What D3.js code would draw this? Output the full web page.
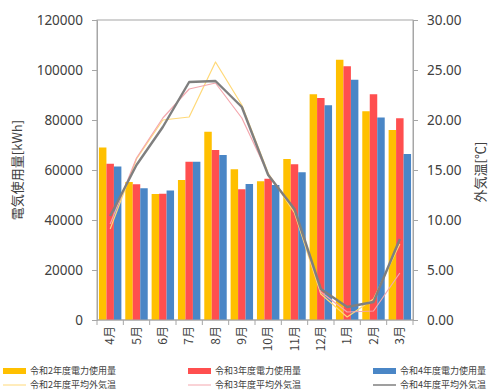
<!DOCTYPE html>
<html>
<head>
<meta charset="utf-8">
<script src="https://cdn.jsdelivr.net/npm/d3@7"></script>
<style>
  html, body { margin: 0; padding: 0; background: #fff; }
  svg { display: block; }
</style>
</head>
<body>
<svg id="chart" width="489" height="392"></svg>
<script>
// Months of the fiscal year (April to March)
const months = ["4月", "5月", "6月", "7月", "8月", "9月", "10月", "11月", "12月", "1月", "2月", "3月"];

// Monthly electricity use [kWh]
const useR2 = [69000, 55200, 50400, 56000, 75300, 60300, 55500, 64400, 90300, 104100, 83500, 76000];
const useR3 = [62500, 54300, 50500, 63300, 68000, 52300, 56500, 62300, 88800, 101500, 90300, 80700];
const useR4 = [61400, 52700, 51800, 63300, 66000, 54400, 54000, 59100, 85900, 96100, 81000, 66400];

// Monthly mean outdoor temperature [℃]
const tempR2 = [9.1, 16.1, 20.0, 20.3, 25.8, 21.5, 14.7, 10.7, 2.6, 0.3, 2.1, 7.6];
const tempR3 = [9.6, 16.2, 20.2, 23.1, 23.7, 20.2, 14.6, 11.1, 2.8, 0.8, 0.9, 4.7];
const tempR4 = [10.4, 15.5, 19.3, 23.8, 23.9, 21.3, 14.5, 11.1, 3.1, 1.3, 1.8, 8.1];

// Axis ticks
const useTicks = [0, 20000, 40000, 60000, 80000, 100000, 120000];
const tempTicks = [0, 5, 10, 15, 20, 25, 30];

const barSeries = [
  { name: "令和2年度電力使用量", values: useR2, color: "#FFC000" },
  { name: "令和3年度電力使用量", values: useR3, color: "#FF4F4F" },
  { name: "令和4年度電力使用量", values: useR4, color: "#4A86C6" }
];
const lineSeries = [
  { name: "令和2年度平均外気温", values: tempR2, color: "#FFD978", width: 1.2 },
  { name: "令和3年度平均外気温", values: tempR3, color: "#F4A7AE", width: 1.2 },
  { name: "令和4年度平均外気温", values: tempR4, color: "#7F7F7F", width: 2.4 }
];

const svg = d3.select("#chart");
const plot = { left: 97, right: 413, top: 20, bottom: 320 };
const axisColor = "#A6A6A6";
const textColor = "#404040";
const numFont = "'Noto Sans', 'Liberation Sans', sans-serif";
const jpFont = "'Noto Sans CJK JP', 'Noto Sans', sans-serif";

const x = d3.scaleBand().domain(months).range([plot.left, plot.right]).paddingInner(0).paddingOuter(0);
const xInner = d3.scaleBand().domain(d3.range(barSeries.length)).range([0, x.bandwidth()]).paddingInner(0).paddingOuter(0.26);
const yUse = d3.scaleLinear().domain([0, 120000]).range([plot.bottom, plot.top]);
const yTemp = d3.scaleLinear().domain([0, 30]).range([plot.bottom, plot.top]);

// Plot frame
svg.append("rect")
  .attr("x", plot.left).attr("y", plot.top)
  .attr("width", plot.right - plot.left).attr("height", plot.bottom - plot.top)
  .attr("fill", "none").attr("stroke", axisColor).attr("stroke-width", 1);

// Bars
const groups = svg.append("g").selectAll("g")
  .data(months)
  .join("g")
  .attr("transform", m => `translate(${x(m)},0)`);

groups.selectAll("rect")
  .data((m, i) => barSeries.map((s, k) => ({ k, v: s.values[i], color: s.color })))
  .join("rect")
  .attr("x", d => xInner(d.k))
  .attr("width", xInner.bandwidth())
  .attr("y", d => yUse(d.v))
  .attr("height", d => yUse(0) - yUse(d.v))
  .attr("fill", d => d.color);

// Temperature lines
const line = d3.line()
  .x((d, i) => x(months[i]) + x.bandwidth() / 2)
  .y(d => yTemp(d));

svg.append("g").selectAll("path")
  .data(lineSeries)
  .join("path")
  .attr("d", s => line(s.values))
  .attr("fill", "none")
  .attr("stroke", s => s.color)
  .attr("stroke-width", s => s.width)
  .attr("stroke-linejoin", "round");

// Left axis
const leftAxis = svg.append("g")
  .attr("transform", `translate(${plot.left},0)`)
  .call(d3.axisLeft(yUse).tickValues(useTicks).tickSize(5).tickPadding(9).tickFormat(d3.format("d")));

// Right axis
const rightAxis = svg.append("g")
  .attr("transform", `translate(${plot.right},0)`)
  .call(d3.axisRight(yTemp).tickValues(tempTicks).tickSize(5).tickPadding(9).tickFormat(d3.format(".2f")));

[leftAxis, rightAxis].forEach(a => {
  a.select(".domain").attr("stroke", axisColor);
  a.selectAll(".tick line").attr("stroke", axisColor);
  a.selectAll(".tick text")
    .attr("fill", textColor)
    .style("font-family", numFont)
    .style("font-size", "13.5px");
});

// Bottom axis: ticks at band boundaries, rotated month labels
const bottom = svg.append("g");
bottom.append("line")
  .attr("x1", plot.left).attr("x2", plot.right)
  .attr("y1", plot.bottom).attr("y2", plot.bottom)
  .attr("stroke", axisColor);
bottom.selectAll("line.tick")
  .data(months.concat(["end"]))
  .join("line")
  .attr("class", "tick")
  .attr("x1", (m, i) => i < months.length ? x(m) : plot.right)
  .attr("x2", (m, i) => i < months.length ? x(m) : plot.right)
  .attr("y1", plot.bottom).attr("y2", plot.bottom + 5)
  .attr("stroke", axisColor);
bottom.selectAll("text")
  .data(months)
  .join("text")
  .attr("transform", m => `translate(${x(m) + x.bandwidth() / 2},${plot.bottom + 6}) rotate(-90)`)
  .attr("text-anchor", "end")
  .attr("dy", "0.35em")
  .attr("fill", textColor)
  .style("font-family", jpFont)
  .style("font-size", "12px")
  .text(m => m);

// Axis titles
svg.append("text")
  .attr("transform", "translate(17,170) rotate(-90)")
  .attr("text-anchor", "middle")
  .attr("dy", "0.35em")
  .attr("fill", textColor)
  .style("font-family", jpFont)
  .style("font-size", "13px")
  .text("電気使用量[kWh]");

svg.append("text")
  .attr("transform", "translate(480,172) rotate(-90)")
  .attr("text-anchor", "middle")
  .attr("dy", "0.35em")
  .attr("fill", textColor)
  .style("font-family", jpFont)
  .style("font-size", "13px")
  .text("外気温[℃]");

// Legend: bars on the first row, lines on the second
const legendX = [3, 188, 373];
const legend = svg.append("g");
barSeries.forEach((s, i) => {
  legend.append("rect")
    .attr("x", legendX[i]).attr("y", 368)
    .attr("width", 23).attr("height", 6)
    .attr("fill", s.color);
  legend.append("text")
    .attr("x", legendX[i] + 27).attr("y", 371)
    .attr("dy", "0.35em")
    .attr("fill", textColor)
    .style("font-family", jpFont)
    .style("font-size", "9px")
    .text(s.name);
});
lineSeries.forEach((s, i) => {
  legend.append("line")
    .attr("x1", legendX[i]).attr("x2", legendX[i] + 23)
    .attr("y1", 385).attr("y2", 385)
    .attr("stroke", s.color)
    .attr("stroke-width", s.width === 2.4 ? 1.5 : 1);
  legend.append("text")
    .attr("x", legendX[i] + 27).attr("y", 385)
    .attr("dy", "0.35em")
    .attr("fill", textColor)
    .style("font-family", jpFont)
    .style("font-size", "9px")
    .text(s.name);
});
</script>
</body>
</html>
